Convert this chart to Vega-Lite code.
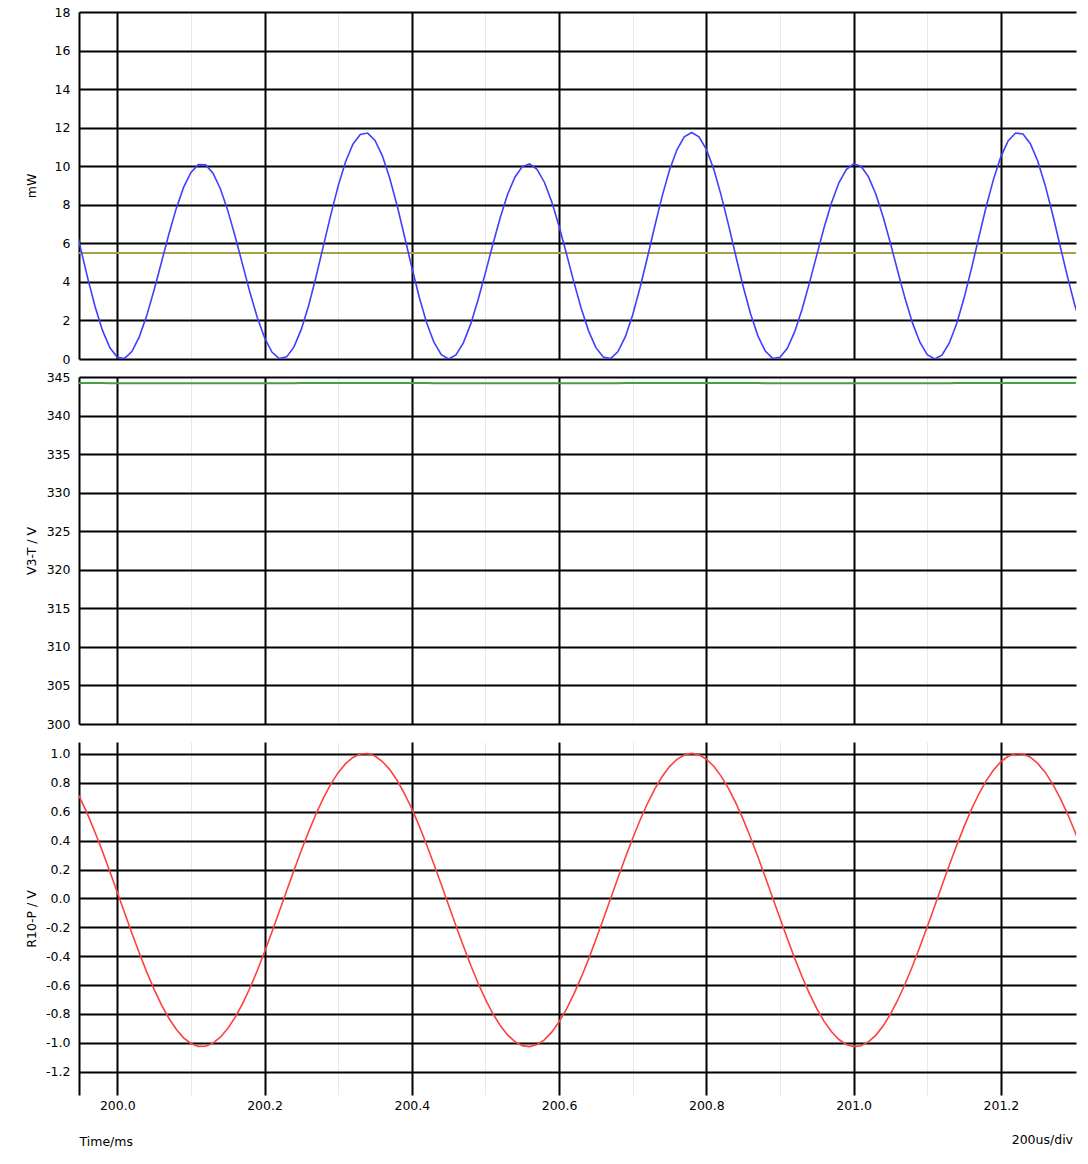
{
  "$schema": "https://vega.github.io/schema/vega-lite/v6.json",
  "padding": {"left": 25, "top": 6, "right": 12, "bottom": 5},
  "spacing": 18,
  "bounds": "flush",
  "config": {
    "view": {"stroke": null},
    "font": "DejaVu Sans",
    "axis": {
      "labelFont": "DejaVu Sans", "labelFontSize": 12.5, "labelColor": "black",
      "titleFont": "DejaVu Sans", "titleFontSize": 12.5, "titleFontWeight": "normal", "titleColor": "black",
      "gridColor": "black", "gridWidth": 2, "gridOpacity": 1, "ticks": false
    },
    "axisY": {"domainColor": "black", "domainWidth": 2, "labelPadding": 9},
    "axisX": {"domain": false}
  },
  "datasets": {
    "avg": [{"t": 199.94, "pa": 5.5}, {"t": 201.31, "pa": 5.5}],
    "sim": [
      {"t":199.94,"p":7.38,"r":0.786,"v":344.22},
      {"t":199.95,"p":5.77,"r":0.689,"v":344.21},
      {"t":199.96,"p":4.17,"r":0.578,"v":344.21},
      {"t":199.97,"p":2.70,"r":0.455,"v":344.21},
      {"t":199.98,"p":1.47,"r":0.324,"v":344.21},
      {"t":199.99,"p":0.58,"r":0.185,"v":344.20},
      {"t":200.00,"p":0.09,"r":0.043,"v":344.20},
      {"t":200.01,"p":0.03,"r":-0.101,"v":344.20},
      {"t":200.02,"p":0.40,"r":-0.243,"v":344.20},
      {"t":200.03,"p":1.16,"r":-0.380,"v":344.19},
      {"t":200.04,"p":2.25,"r":-0.510,"v":344.19},
      {"t":200.05,"p":3.58,"r":-0.630,"v":344.19},
      {"t":200.06,"p":5.02,"r":-0.737,"v":344.19},
      {"t":200.07,"p":6.47,"r":-0.830,"v":344.18},
      {"t":200.08,"p":7.80,"r":-0.906,"v":344.18},
      {"t":200.09,"p":8.90,"r":-0.965,"v":344.18},
      {"t":200.10,"p":9.68,"r":-1.004,"v":344.18},
      {"t":200.11,"p":10.08,"r":-1.024,"v":344.18},
      {"t":200.12,"p":10.07,"r":-1.023,"v":344.18},
      {"t":200.13,"p":9.64,"r":-1.002,"v":344.18},
      {"t":200.14,"p":8.83,"r":-0.961,"v":344.18},
      {"t":200.15,"p":7.71,"r":-0.901,"v":344.18},
      {"t":200.16,"p":6.37,"r":-0.824,"v":344.18},
      {"t":200.17,"p":4.92,"r":-0.730,"v":344.19},
      {"t":200.18,"p":3.48,"r":-0.622,"v":344.19},
      {"t":200.19,"p":2.17,"r":-0.501,"v":344.19},
      {"t":200.20,"p":1.10,"r":-0.371,"v":344.19},
      {"t":200.21,"p":0.36,"r":-0.233,"v":344.20},
      {"t":200.22,"p":0.02,"r":-0.091,"v":344.20},
      {"t":200.23,"p":0.11,"r":0.053,"v":344.20},
      {"t":200.24,"p":0.63,"r":0.195,"v":344.20},
      {"t":200.25,"p":1.55,"r":0.333,"v":344.21},
      {"t":200.26,"p":2.79,"r":0.464,"v":344.21},
      {"t":200.27,"p":4.28,"r":0.586,"v":344.21},
      {"t":200.28,"p":5.88,"r":0.696,"v":344.21},
      {"t":200.29,"p":7.49,"r":0.792,"v":344.22},
      {"t":200.30,"p":8.98,"r":0.871,"v":344.22},
      {"t":200.31,"p":10.23,"r":0.933,"v":344.22},
      {"t":200.32,"p":11.14,"r":0.976,"v":344.22},
      {"t":200.33,"p":11.65,"r":1.000,"v":344.22},
      {"t":200.34,"p":11.72,"r":1.003,"v":344.22},
      {"t":200.35,"p":11.34,"r":0.986,"v":344.22},
      {"t":200.36,"p":10.54,"r":0.948,"v":344.22},
      {"t":200.37,"p":9.38,"r":0.892,"v":344.22},
      {"t":200.38,"p":7.96,"r":0.818,"v":344.22},
      {"t":200.39,"p":6.37,"r":0.726,"v":344.21},
      {"t":200.40,"p":4.75,"r":0.621,"v":344.21},
      {"t":200.41,"p":3.22,"r":0.502,"v":344.21},
      {"t":200.42,"p":1.89,"r":0.373,"v":344.21},
      {"t":200.43,"p":0.87,"r":0.237,"v":344.20},
      {"t":200.44,"p":0.22,"r":0.096,"v":344.20},
      {"t":200.45,"p":0.00,"r":-0.048,"v":344.20},
      {"t":200.46,"p":0.21,"r":-0.191,"v":344.20},
      {"t":200.47,"p":0.84,"r":-0.330,"v":344.19},
      {"t":200.48,"p":1.82,"r":-0.463,"v":344.19},
      {"t":200.49,"p":3.07,"r":-0.587,"v":344.19},
      {"t":200.50,"p":4.48,"r":-0.699,"v":344.19},
      {"t":200.51,"p":5.94,"r":-0.797,"v":344.18},
      {"t":200.52,"p":7.33,"r":-0.880,"v":344.18},
      {"t":200.53,"p":8.53,"r":-0.945,"v":344.18},
      {"t":200.54,"p":9.43,"r":-0.992,"v":344.18},
      {"t":200.55,"p":9.98,"r":-1.019,"v":344.18},
      {"t":200.56,"p":10.12,"r":-1.026,"v":344.18},
      {"t":200.57,"p":9.84,"r":-1.012,"v":344.18},
      {"t":200.58,"p":9.17,"r":-0.979,"v":344.18},
      {"t":200.59,"p":8.16,"r":-0.926,"v":344.18},
      {"t":200.60,"p":6.89,"r":-0.854,"v":344.18},
      {"t":200.61,"p":5.46,"r":-0.766,"v":344.19},
      {"t":200.62,"p":4.00,"r":-0.663,"v":344.19},
      {"t":200.63,"p":2.63,"r":-0.547,"v":344.19},
      {"t":200.64,"p":1.46,"r":-0.420,"v":344.19},
      {"t":200.65,"p":0.59,"r":-0.285,"v":344.19},
      {"t":200.66,"p":0.10,"r":-0.144,"v":344.20},
      {"t":200.67,"p":0.02,"r":-0.001,"v":344.20},
      {"t":200.68,"p":0.39,"r":0.143,"v":344.20},
      {"t":200.69,"p":1.16,"r":0.283,"v":344.21},
      {"t":200.70,"p":2.30,"r":0.417,"v":344.21},
      {"t":200.71,"p":3.71,"r":0.543,"v":344.21},
      {"t":200.72,"p":5.28,"r":0.657,"v":344.21},
      {"t":200.73,"p":6.90,"r":0.758,"v":344.22},
      {"t":200.74,"p":8.45,"r":0.844,"v":344.22},
      {"t":200.75,"p":9.80,"r":0.913,"v":344.22},
      {"t":200.76,"p":10.85,"r":0.963,"v":344.22},
      {"t":200.77,"p":11.52,"r":0.993,"v":344.22},
      {"t":200.78,"p":11.75,"r":1.004,"v":344.22},
      {"t":200.79,"p":11.53,"r":0.994,"v":344.22},
      {"t":200.80,"p":10.88,"r":0.964,"v":344.22},
      {"t":200.81,"p":9.85,"r":0.915,"v":344.22},
      {"t":200.82,"p":8.50,"r":0.847,"v":344.22},
      {"t":200.83,"p":6.97,"r":0.762,"v":344.22},
      {"t":200.84,"p":5.34,"r":0.661,"v":344.21},
      {"t":200.85,"p":3.76,"r":0.547,"v":344.21},
      {"t":200.86,"p":2.35,"r":0.422,"v":344.21},
      {"t":200.87,"p":1.20,"r":0.288,"v":344.21},
      {"t":200.88,"p":0.41,"r":0.148,"v":344.20},
      {"t":200.89,"p":0.03,"r":0.005,"v":344.20},
      {"t":200.90,"p":0.09,"r":-0.138,"v":344.20},
      {"t":200.91,"p":0.56,"r":-0.279,"v":344.19},
      {"t":200.92,"p":1.42,"r":-0.415,"v":344.19},
      {"t":200.93,"p":2.58,"r":-0.542,"v":344.19},
      {"t":200.94,"p":3.95,"r":-0.659,"v":344.19},
      {"t":200.95,"p":5.40,"r":-0.763,"v":344.19},
      {"t":200.96,"p":6.83,"r":-0.851,"v":344.18},
      {"t":200.97,"p":8.11,"r":-0.923,"v":344.18},
      {"t":200.98,"p":9.14,"r":-0.977,"v":344.18},
      {"t":200.99,"p":9.83,"r":-1.011,"v":344.18},
      {"t":201.00,"p":10.12,"r":-1.026,"v":344.18},
      {"t":201.01,"p":10.00,"r":-1.020,"v":344.18},
      {"t":201.02,"p":9.46,"r":-0.993,"v":344.18},
      {"t":201.03,"p":8.57,"r":-0.948,"v":344.18},
      {"t":201.04,"p":7.38,"r":-0.883,"v":344.18},
      {"t":201.05,"p":6.00,"r":-0.801,"v":344.18},
      {"t":201.06,"p":4.54,"r":-0.703,"v":344.19},
      {"t":201.07,"p":3.12,"r":-0.591,"v":344.19},
      {"t":201.08,"p":1.86,"r":-0.468,"v":344.19},
      {"t":201.09,"p":0.87,"r":-0.335,"v":344.19},
      {"t":201.10,"p":0.23,"r":-0.196,"v":344.20},
      {"t":201.11,"p":0.00,"r":-0.054,"v":344.20},
      {"t":201.12,"p":0.20,"r":0.090,"v":344.20},
      {"t":201.13,"p":0.83,"r":0.231,"v":344.20},
      {"t":201.14,"p":1.84,"r":0.368,"v":344.21},
      {"t":201.15,"p":3.16,"r":0.497,"v":344.21},
      {"t":201.16,"p":4.69,"r":0.616,"v":344.21},
      {"t":201.17,"p":6.31,"r":0.723,"v":344.21},
      {"t":201.18,"p":7.90,"r":0.814,"v":344.22},
      {"t":201.19,"p":9.33,"r":0.889,"v":344.22},
      {"t":201.20,"p":10.50,"r":0.947,"v":344.22},
      {"t":201.21,"p":11.32,"r":0.984,"v":344.22},
      {"t":201.22,"p":11.72,"r":1.002,"v":344.22},
      {"t":201.23,"p":11.67,"r":1.000,"v":344.22},
      {"t":201.24,"p":11.17,"r":0.978,"v":344.22},
      {"t":201.25,"p":10.27,"r":0.935,"v":344.22},
      {"t":201.26,"p":9.03,"r":0.874,"v":344.22},
      {"t":201.27,"p":7.55,"r":0.795,"v":344.22},
      {"t":201.28,"p":5.94,"r":0.700,"v":344.21},
      {"t":201.29,"p":4.34,"r":0.591,"v":344.21},
      {"t":201.30,"p":2.84,"r":0.469,"v":344.21},
      {"t":201.31,"p":1.59,"r":0.338,"v":344.21}
    ]
  },
  "vconcat": [
    {
      "width": 997, "height": 347,
      "layer": [
        {
          "data": {"name": "avg"},
          "mark": {"type": "line", "color": "#a3a347", "strokeWidth": 2, "clip": true},
          "encoding": {
            "x": {"field": "t", "type": "quantitative", "scale": {"domain": [199.948, 201.302], "nice": false, "zero": false},
                  "axis": {"values": [200.0,200.1,200.2,200.3,200.4,200.5,200.6,200.7,200.8,200.9,201.0,201.1,201.2], "labels": false, "title": null,
                           "gridColor": {"condition": {"test": "round(datum.value*10) % 2 == 0", "value": "black"}, "value": "#e8e8e8"},
                           "gridWidth": {"condition": {"test": "round(datum.value*10) % 2 == 0", "value": 2}, "value": 1}}},
            "y": {"field": "pa", "type": "quantitative", "scale": {"domain": [0, 18], "nice": false},
                  "axis": {"values": [0,2,4,6,8,10,12,14,16,18], "title": "mW", "titleX": -41}}
          }
        },
        {
          "data": {"name": "sim"},
          "mark": {"type": "line", "color": "#3f3fff", "strokeWidth": 1.6, "clip": true},
          "encoding": {
            "x": {"field": "t", "type": "quantitative"},
            "y": {"field": "p", "type": "quantitative", "axis": {"values": [0,2,4,6,8,10,12,14,16,18], "title": "mW", "titleX": -41}}
          }
        }
      ]
    },
    {
      "width": 997, "height": 347,
      "data": {"name": "sim"},
      "mark": {"type": "line", "color": "#45a045", "strokeWidth": 2, "clip": true},
      "encoding": {
        "x": {"field": "t", "type": "quantitative", "scale": {"domain": [199.948, 201.302], "nice": false, "zero": false},
              "axis": {"values": [200.0,200.1,200.2,200.3,200.4,200.5,200.6,200.7,200.8,200.9,201.0,201.1,201.2], "labels": false, "title": null,
                       "gridColor": {"condition": {"test": "round(datum.value*10) % 2 == 0", "value": "black"}, "value": "#e8e8e8"},
                       "gridWidth": {"condition": {"test": "round(datum.value*10) % 2 == 0", "value": 2}, "value": 1}}},
        "y": {"field": "v", "type": "quantitative", "scale": {"domain": [300, 345], "nice": false, "zero": false},
              "axis": {"values": [300,305,310,315,320,325,330,335,340,345], "title": "V3-T / V", "titleX": -41}}
      }
    },
    {
      "width": 997, "height": 353,
      "title": {"text": "200us/div", "orient": "bottom", "anchor": "end", "font": "DejaVu Sans", "fontSize": 12.5, "fontWeight": "normal", "color": "black", "offset": -14, "dx": -3},
      "data": {"name": "sim"},
      "mark": {"type": "line", "color": "#ff4040", "strokeWidth": 1.6, "clip": true},
      "encoding": {
        "x": {"field": "t", "type": "quantitative", "scale": {"domain": [199.948, 201.302], "nice": false, "zero": false},
              "axis": {"values": [200.0,200.1,200.2,200.3,200.4,200.5,200.6,200.7,200.8,200.9,201.0,201.1,201.2],
                       "labelExpr": "round(datum.value*10) % 2 == 0 ? format(datum.value, '.1f') : ''",
                       "labelPadding": 4,
                       "title": "Time/ms", "titleAnchor": "start", "titleY": 46, "titleBaseline": "middle",
                       "gridColor": {"condition": {"test": "round(datum.value*10) % 2 == 0", "value": "black"}, "value": "#e8e8e8"},
                       "gridWidth": {"condition": {"test": "round(datum.value*10) % 2 == 0", "value": 2}, "value": 1}}},
        "y": {"field": "r", "type": "quantitative", "scale": {"domain": [-1.361, 1.083], "nice": false, "zero": false},
              "axis": {"values": [-1.2,-1.0,-0.8,-0.6,-0.4,-0.2,0.0,0.2,0.4,0.6,0.8,1.0],
                       "labelExpr": "replace(format(datum.value, '.1f'), '\u2212', '-')",
                       "title": "R10-P / V", "titleX": -41}}
      }
    }
  ]
}
